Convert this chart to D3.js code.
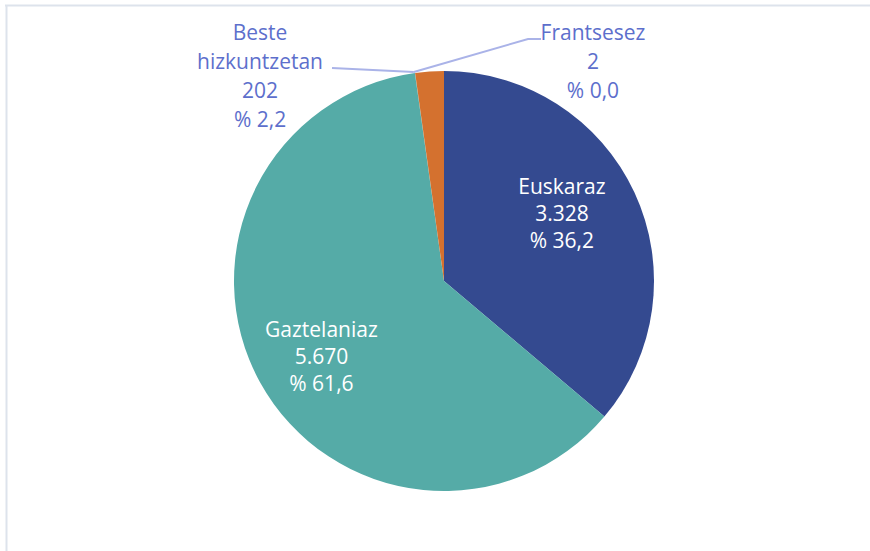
<!DOCTYPE html>
<html>
<head>
<meta charset="utf-8">
<script src="https://cdn.jsdelivr.net/npm/d3@7"></script>
<style>
  body { margin: 0; background: #fff; }
  text { font-family: "Open Sans", sans-serif; }
</style>
</head>
<body>
<div id="chart"></div>
<script>
// data
const languages = ['Euskaraz', 'Gaztelaniaz', 'Frantsesez', 'Beste hizkuntzetan'];
const counts = [3328, 5670, 2, 202];
const countLabels = ['3.328', '5.670', '2', '202'];
const pctLabels = ['% 36,2', '% 61,6', '% 0,0', '% 2,2'];
const colors = ['#344a90', '#55aba7', '#55aba7', '#d4712f'];

const width = 870, height = 551;
const cx = 444, cy = 281, radius = 210;
const fontSize = 21;

const svg = d3.select('#chart').append('svg')
    .attr('width', width)
    .attr('height', height);

// frame edges (top + left only visible)
svg.append('line').attr('x1', 5).attr('x2', width).attr('y1', 5.5).attr('y2', 5.5)
    .attr('stroke', '#dde3ec').attr('stroke-width', 2);
svg.append('line').attr('x1', 6.5).attr('x2', 6.5).attr('y1', 5).attr('y2', height)
    .attr('stroke', '#dde3ec').attr('stroke-width', 2);

const data = languages.map((d, i) => ({
  name: d, value: counts[i], count: countLabels[i], pct: pctLabels[i], color: colors[i]
}));

const pie = d3.pie().sort(null).value(d => d.value);
const arcs = pie(data);

const arc = d3.arc().innerRadius(0).outerRadius(radius);

const g = svg.append('g').attr('transform', `translate(${cx},${cy})`);

g.selectAll('path.slice')
    .data(arcs)
  .join('path')
    .attr('class', 'slice')
    .attr('d', arc)
    .attr('fill', d => d.data.color);

// inside labels for the big slices (radius + nudge per slice)
const lineH = 27;
const insideLayout = {Euskaraz: {r: 130, dy: -13}, Gaztelaniaz: {r: 140, dy: 8}};
arcs.filter(d => insideLayout[d.data.name]).forEach(d => {
  const lay = insideLayout[d.data.name];
  const [x, y0] = d3.arc().innerRadius(lay.r).outerRadius(lay.r).centroid(d);
  const y = y0 + lay.dy;
  const t = g.append('text')
      .attr('text-anchor', 'middle')
      .attr('fill', '#ffffff')
      .attr('font-size', fontSize);
  [d.data.name, d.data.count, d.data.pct].forEach((s, k) => {
    t.append('tspan').attr('x', x).attr('y', y + (k - 1) * lineH).attr('dy', '0.35em').text(s);
  });
});

// outside labels with leader lines
const outColor = '#5d6fcc';
const leaderColor = '#aab3e8';
const frAngle = arcs[2].startAngle;
const tip = [radius * Math.sin(frAngle) - 1, -radius * Math.cos(frAngle) - 1];

// Beste hizkuntzetan
const beste = arcs[3].data;
const bx = 260 - cx, by0 = 33 - cy;
const bt = g.append('text').attr('text-anchor', 'middle').attr('fill', outColor).attr('font-size', fontSize);
['Beste', 'hizkuntzetan', beste.count, beste.pct].forEach((s, k) => {
  bt.append('tspan').attr('x', bx).attr('y', by0 + k * 29).attr('dy', '0.35em').text(s);
});
g.append('path')
    .attr('d', d3.line()([[332 - cx, 68 - cy], tip]))
    .attr('fill', 'none').attr('stroke', leaderColor).attr('stroke-width', 2);

// Frantsesez
const fr = arcs[2].data;
const fx = 593 - cx, fy0 = 33 - cy;
const ft = g.append('text').attr('text-anchor', 'middle').attr('fill', outColor).attr('font-size', fontSize);
[fr.name, fr.count, fr.pct].forEach((s, k) => {
  ft.append('tspan').attr('x', fx).attr('y', fy0 + k * 29).attr('dy', '0.35em').text(s);
});
g.append('path')
    .attr('d', d3.line()([[541 - cx, 39 - cy], [528 - cx, 39 - cy], tip]))
    .attr('fill', 'none').attr('stroke', leaderColor).attr('stroke-width', 2);
</script>
</body>
</html>
